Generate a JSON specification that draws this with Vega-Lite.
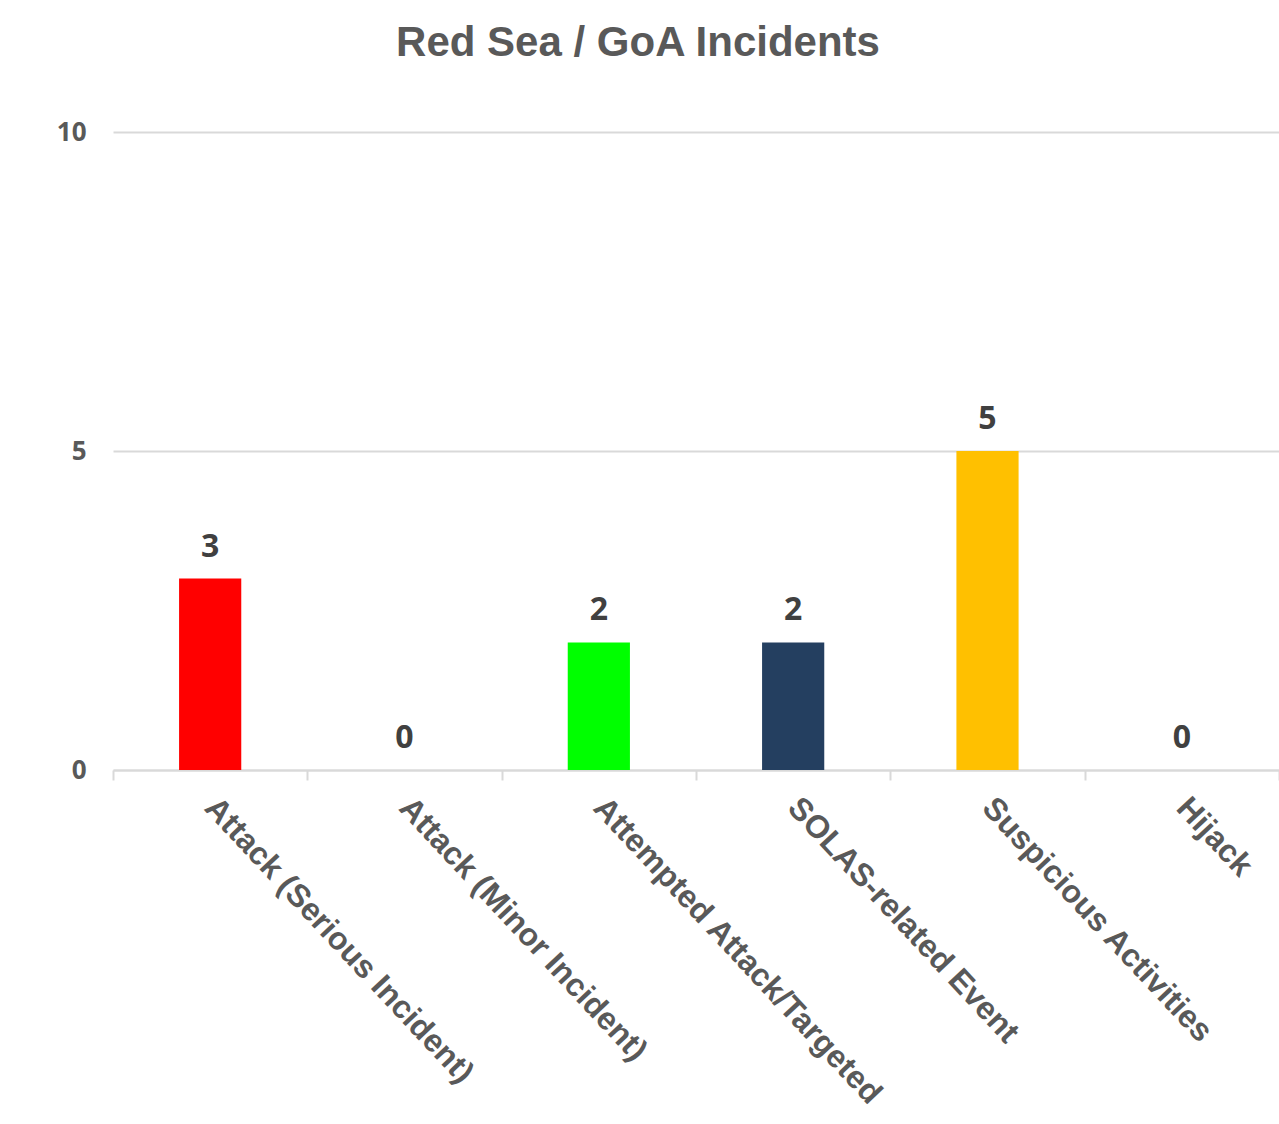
{
  "$schema": "https://vega.github.io/schema/vega-lite/v6.json",
  "autosize": "none",
  "width": 1166,
  "height": 638,
  "padding": {"left": 113, "top": 132, "right": 0, "bottom": 354},
  "background": "white",
  "title": {
    "text": "Red Sea / GoA Incidents",
    "font": "Liberation Sans",
    "fontSize": 42,
    "fontWeight": "bold",
    "color": "#595959",
    "anchor": "middle",
    "dx": -58,
    "offset": 54
  },
  "data": {
    "values": [
      {"category": "Attack (Serious Incident)", "count": 3, "color": "#FF0000"},
      {"category": "Attack (Minor Incident)", "count": 0, "color": "#C00000"},
      {"category": "Attempted Attack/Targeted", "count": 2, "color": "#00FF00"},
      {"category": "SOLAS-related Event", "count": 2, "color": "#243F60"},
      {"category": "Suspicious Activities", "count": 5, "color": "#FFC000"},
      {"category": "Hijack", "count": 0, "color": "#7F7F7F"}
    ]
  },
  "config": {
    "view": {"stroke": null},
    "axis": {"labelColor": "#595959", "labelFontWeight": "bold"}
  },
  "encoding": {
    "x": {
      "field": "category",
      "type": "nominal",
      "sort": null,
      "scale": {"paddingInner": 0, "paddingOuter": 0},
      "axis": {
        "title": null,
        "labelAngle": 47,
        "labelAlign": "left",
        "labelBaseline": "middle",
        "labelFont": "Liberation Sans",
        "labelFontSize": 32,
        "labelPadding": 22,
        "labelLimit": 0,
        "tickBand": "extent",
        "tickSize": 10,
        "tickColor": "#D9D9D9",
        "tickWidth": 2,
        "domainColor": "#D9D9D9",
        "domainWidth": 2,
        "grid": false
      }
    },
    "y": {
      "field": "count",
      "type": "quantitative",
      "scale": {"domain": [0, 10]},
      "axis": {
        "title": null,
        "values": [0, 5, 10],
        "domain": false,
        "ticks": false,
        "labelPadding": 27,
        "labelFont": "Open Sans",
        "labelFontSize": 26,
        "gridColor": "#D9D9D9",
        "gridWidth": 2
      }
    }
  },
  "layer": [
    {
      "mark": {"type": "bar", "width": {"band": 0.32}},
      "encoding": {
        "color": {"field": "color", "type": "nominal", "scale": null}
      }
    },
    {
      "mark": {
        "type": "text",
        "dy": -32,
        "font": "Open Sans",
        "fontSize": 32,
        "fontWeight": "bold",
        "color": "#404040"
      },
      "encoding": {"text": {"field": "count", "type": "quantitative"}}
    }
  ]
}
